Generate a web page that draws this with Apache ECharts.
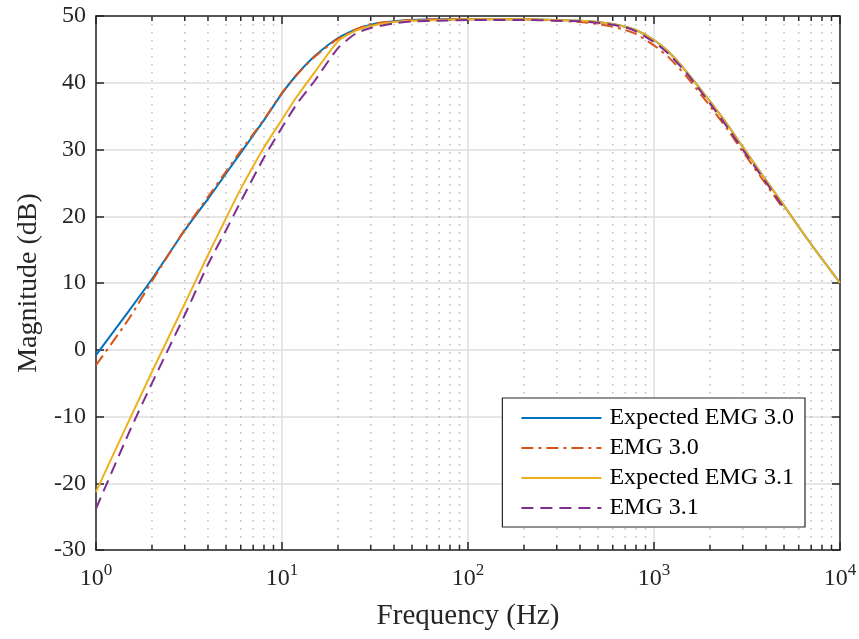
<!DOCTYPE html>
<html><head><meta charset="utf-8">
<script src="https://cdn.jsdelivr.net/npm/echarts@6/dist/echarts.min.js"></script>
<style>html,body{margin:0;padding:0;background:#fff}#c{width:859px;height:639px}</style>
</head><body><div id="c"></div>
<script>
// ---- data ----
const seriesNames = ['Expected EMG 3.0', 'EMG 3.0', 'Expected EMG 3.1', 'EMG 3.1'];
const freqExpected = [1, 1.5, 2, 3, 4, 5, 6, 8, 10, 12, 15, 20, 25, 30, 40, 50, 70, 100, 150, 200, 300, 400, 500, 600, 700, 800, 1000, 1200, 1500, 2000, 2500, 3000, 4000, 5000, 6000, 7000, 8000, 10000];
const expected30 = [-0.8, 5.8, 10.6, 17.9, 22.6, 26.4, 29.5, 34.4, 38.4, 41.2, 44.0, 46.7, 48.0, 48.7, 49.2, 49.4, 49.5, 49.5, 49.5, 49.5, 49.4, 49.3, 49.1, 48.8, 48.4, 47.9, 46.4, 44.6, 41.6, 37.2, 33.6, 30.4, 25.4, 21.6, 18.4, 15.8, 13.6, 10.0];
const expected31 = [-21.3, -10.7, -3.3, 6.9, 14.2, 19.7, 24.1, 30.3, 34.5, 37.9, 41.6, 46.2, 47.8, 48.5, 49.1, 49.3, 49.4, 49.5, 49.5, 49.5, 49.4, 49.3, 49.1, 48.8, 48.4, 47.9, 46.4, 44.6, 41.6, 37.2, 33.6, 30.4, 25.4, 21.6, 18.4, 15.8, 13.6, 10.0];
const freqMeasured = [1, 1.5, 2, 3, 4, 5, 6, 8, 10, 12, 15, 20, 25, 30, 40, 50, 70, 100, 150, 200, 300, 400, 500, 600, 700, 800, 1000, 1200, 1500, 2000, 2500, 3000, 4000, 5000];
const emg30 = [-2.3, 4.6, 10.3, 18.0, 22.9, 26.7, 29.8, 34.5, 38.5, 41.2, 43.9, 46.6, 48.0, 48.8, 49.2, 49.4, 49.5, 49.5, 49.5, 49.5, 49.3, 49.1, 48.8, 48.4, 47.9, 47.3, 45.6, 43.8, 40.9, 36.5, 32.9, 29.7, 24.8, 21.0];
const emg31 = [-23.8, -12.5, -5.0, 5.2, 12.8, 17.9, 22.2, 28.8, 33.3, 36.8, 40.3, 45.2, 47.4, 48.2, 48.9, 49.2, 49.3, 49.4, 49.4, 49.4, 49.3, 49.2, 49.0, 48.7, 48.3, 47.7, 46.1, 44.3, 41.4, 36.9, 33.2, 30.0, 25.1, 21.2];
const minorFreqs = [2,3,4,5,6,7,8,9,20,30,40,50,60,70,80,90,200,300,400,500,600,700,800,900,2000,3000,4000,5000,6000,7000,8000,9000];
const xMin = 1, xMax = 10000, yMin = -30, yMax = 50, yStep = 10;

const colors = ['#0072BD', '#D95319', '#EDB120', '#7E2F8E'];
const FONT = 'Liberation Serif';
const AX = '#262626';

const pairs = (xs, ys) => xs.map((x, i) => [x, ys[i]]);

const chart = echarts.init(document.getElementById('c'), null, {renderer: 'canvas'});

const baseX = {
  type: 'log', logBase: 10, min: xMin, max: xMax,
  axisLine: {show: true, onZero: false, lineStyle: {color: AX, width: 1.5}},
  axisTick: {show: true, inside: true, length: 8, lineStyle: {color: AX, width: 1.5}},
  minorTick: {show: false}, minorSplitLine: {show: false}
};
const baseY = {
  type: 'value', min: yMin, max: yMax, interval: yStep,
  axisLine: {show: true, onZero: false, lineStyle: {color: AX, width: 1.5}},
  axisTick: {show: true, inside: true, length: 8, lineStyle: {color: AX, width: 1.5}}
};

const lineSeries = (name, xs, ys, color, type) => ({
  name, type: 'line', data: pairs(xs, ys), showSymbol: false, symbol: 'none',
  smooth: 0.2, color, z: 3,
  lineStyle: {color, width: 2, type: type || 'solid'}
});

chart.setOption({
  animation: false,
  backgroundColor: '#fff',
  grid: {left: 96, right: 19, top: 16, bottom: 89, containLabel: false, outerBoundsMode: 'none'},
  xAxis: [
    Object.assign({}, baseX, {
      position: 'bottom',
      name: 'Frequency (Hz)', nameLocation: 'middle', nameGap: 52,
      nameTextStyle: {fontFamily: FONT, fontSize: 29, color: AX},
      splitLine: {show: true, lineStyle: {color: '#dedede', width: 1.5}},
      axisLabel: {
        margin: 12,
        formatter: v => '{b|10}{s|' + Math.round(Math.log10(v)) + '}',
        rich: {
          b: {fontFamily: FONT, fontSize: 24, color: AX},
          s: {fontFamily: FONT, fontSize: 17, color: AX, padding: [0, 0, 16, 0]}
        }
      }
    }),
    Object.assign({}, baseX, {
      position: 'top', axisLabel: {show: false}, splitLine: {show: false}
    })
  ],
  yAxis: [
    Object.assign({}, baseY, {
      position: 'left',
      name: 'Magnitude (dB)', nameLocation: 'middle', nameGap: 52,
      nameTextStyle: {fontFamily: FONT, fontSize: 28, color: AX},
      splitLine: {show: true, lineStyle: {color: '#dedede', width: 1.5}},
      axisLabel: {fontFamily: FONT, fontSize: 24, color: AX, margin: 10}
    }),
    Object.assign({}, baseY, {
      position: 'right', axisLabel: {show: false}, splitLine: {show: false}
    })
  ],
  legend: {
    data: seriesNames,
    orient: 'vertical', right: 54, top: 398,
    itemWidth: 80, itemHeight: 14, itemGap: 6,
    padding: [8, 11, 7, 18],
    itemStyle: {opacity: 0},
    borderColor: AX, borderWidth: 1.2, backgroundColor: '#fff',
    textStyle: {fontFamily: FONT, fontSize: 24, color: '#000', padding: [0, 0, 0, 3]}
  },
  series: [
    {
      type: 'custom', name: 'minor', silent: true, z: 1,
      xAxisIndex: 0, yAxisIndex: 0,
      data: minorFreqs.map(f => [f, yMin]),
      encode: {x: 0, y: 1},
      renderItem: (params, api) => {
        const f = api.value(0);
        const t = api.coord([f, yMax]);
        const b = api.coord([f, yMin]);
        return {type: 'group', children: [
          {type: 'line', shape: {x1: t[0], y1: t[1], x2: b[0], y2: b[1]},
           style: {stroke: '#b4b4b4', lineWidth: 1.3, lineDash: [1.5, 6.5]}},
          {type: 'line', shape: {x1: b[0], y1: b[1], x2: b[0], y2: b[1] - 5},
           style: {stroke: AX, lineWidth: 1.5}},
          {type: 'line', shape: {x1: t[0], y1: t[1], x2: t[0], y2: t[1] + 5},
           style: {stroke: AX, lineWidth: 1.5}}
        ]};
      }
    },
    lineSeries(seriesNames[0], freqExpected, expected30, colors[0]),
    lineSeries(seriesNames[1], freqMeasured, emg30, colors[1], [12, 5, 3, 5]),
    lineSeries(seriesNames[2], freqExpected, expected31, colors[2]),
    lineSeries(seriesNames[3], freqMeasured, emg31, colors[3], [12, 7])
  ]
});
</script>
</body></html>
